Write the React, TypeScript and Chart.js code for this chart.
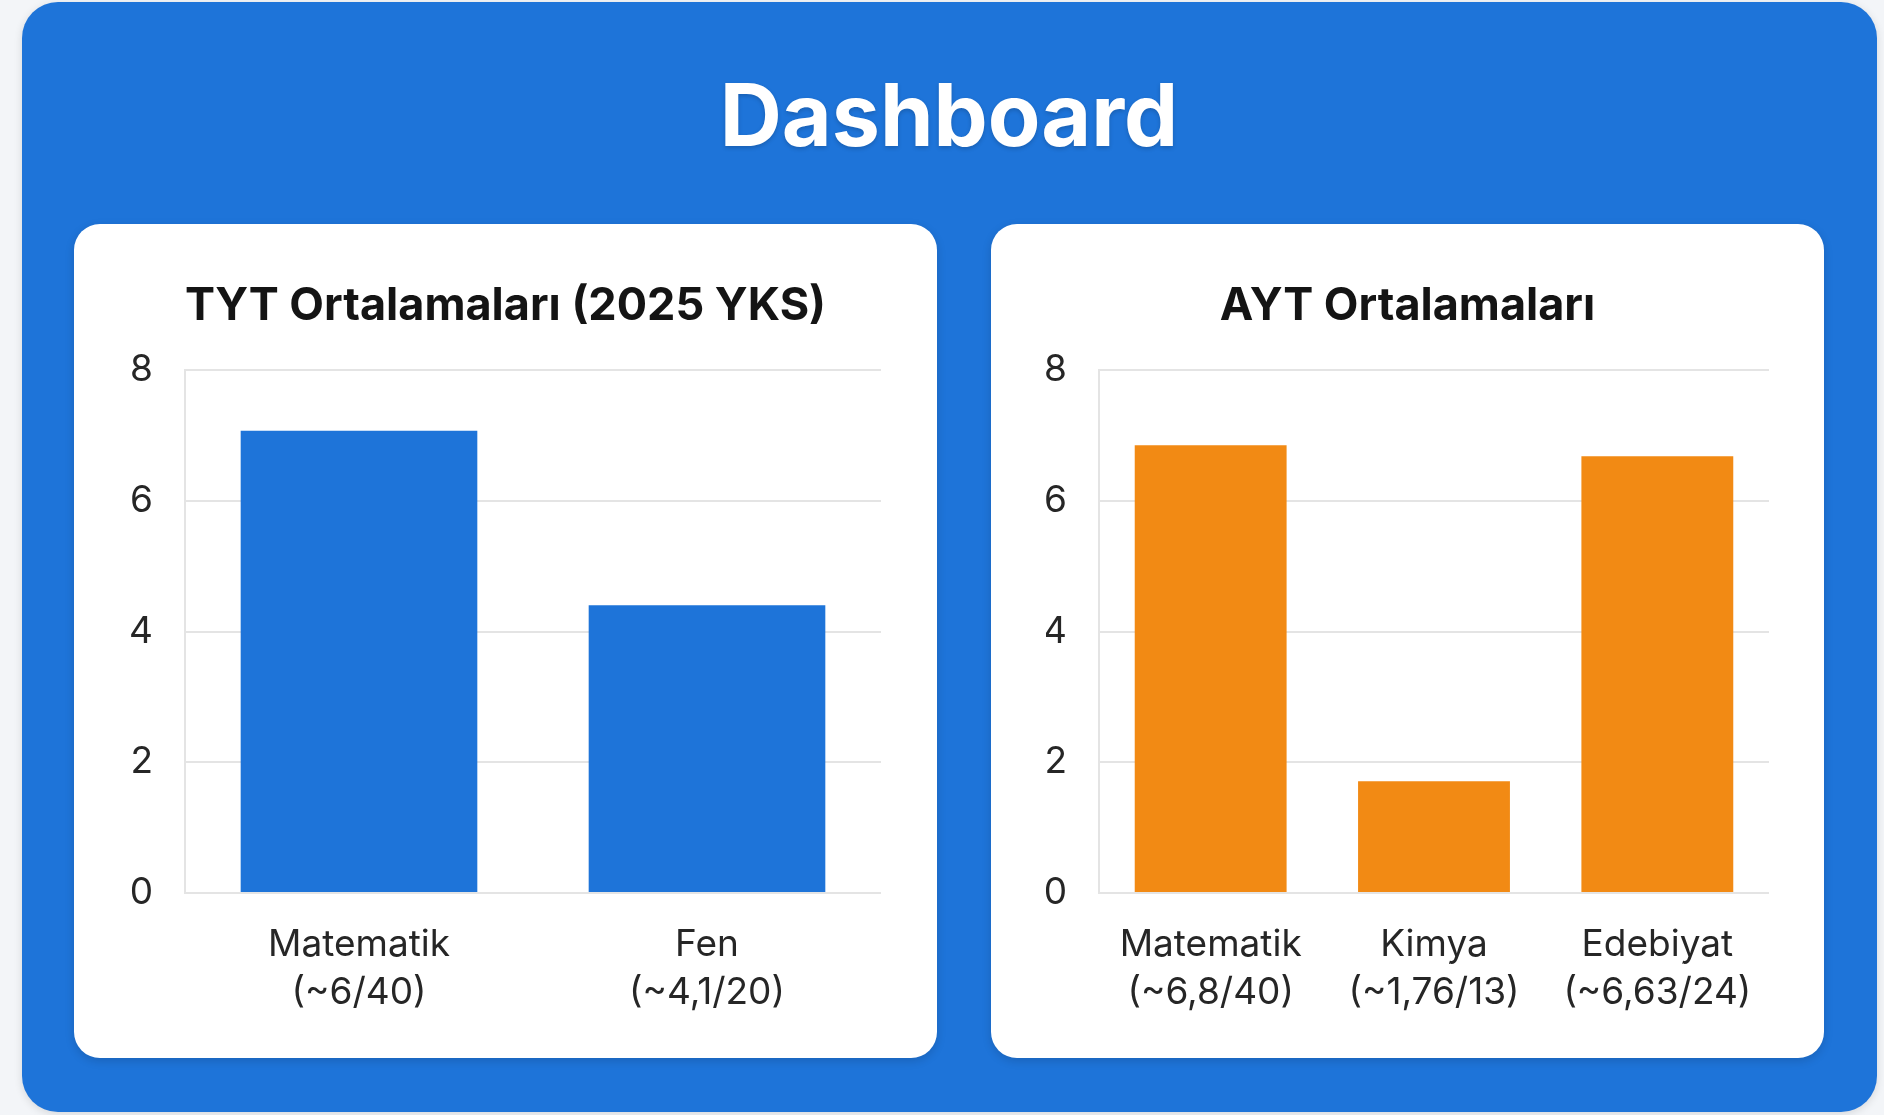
import React, { useEffect, useRef } from "react";
import { Chart, registerables } from "chart.js";

Chart.register(...registerables);

const pageTitle = "Dashboard";

const tytTitle = "TYT Ortalamaları (2025 YKS)";
const tytCategories = [["Matematik", "(~6/40)"], ["Fen", "(~4,1/20)"]];
const tytValues = [7.07, 4.4];

const aytTitle = "AYT Ortalamaları";
const aytCategories = [["Matematik", "(~6,8/40)"], ["Kimya", "(~1,76/13)"], ["Edebiyat", "(~6,63/24)"]];
const aytValues = [6.85, 1.71, 6.68];

const yMin = 0;
const yMax = 8;
const yStep = 2;

const FONT = "Inter, 'Noto Sans', 'DejaVu Sans', sans-serif";

type BarProps = {
  title: string;
  categories: string[][];
  values: number[];
  color: string;
  width: number;
  height: number;
  yAxisWidth: number;
  padSide: number;
};

function BarCard({ title, categories, values, color, width, height, yAxisWidth, padSide }: BarProps) {
  const ref = useRef<HTMLCanvasElement | null>(null);
  useEffect(() => {
    if (!ref.current) return;
    const chart = new Chart(ref.current, {
      type: "bar",
      data: {
        labels: categories,
        datasets: [
          {
            data: values,
            backgroundColor: color,
            borderWidth: 0,
            categoryPercentage: 0.8,
            barPercentage: 0.85,
          },
        ],
      },
      options: {
        responsive: false,
        animation: false,
        layout: { padding: { top: 0, left: padSide, right: padSide, bottom: 14 } },
        plugins: {
          legend: { display: false },
          tooltip: { enabled: false },
          title: {
            display: true,
            text: title,
            color: "#141414",
            font: { family: FONT, size: 45, weight: "bold", lineHeight: 1.2 },
            padding: { top: 55, bottom: 37 },
          },
        },
        scales: {
          x: {
            grid: { display: false, drawTicks: false },
            border: { display: false },
            ticks: {
              color: "#262626",
              padding: 27.5,
              font: { family: FONT, size: 37, lineHeight: 48 / 37 },
              maxRotation: 0,
              autoSkip: false,
            },
          },
          y: {
            min: yMin,
            max: yMax,
            ticks: {
              stepSize: yStep,
              color: "#262626",
              padding: 32,
              font: { family: FONT, size: 37 },
            },
            grid: { color: "#e4e4e4", lineWidth: 2, drawTicks: false },
            border: { display: true, color: "#e4e4e4", width: 2 },
            afterFit: (s: any) => {
              s.width = yAxisWidth;
            },
          },
        },
      },
    });
    return () => chart.destroy();
  }, []);
  return <canvas ref={ref} width={width} height={height} style={{ width, height, display: "block" }} />;
}

export default function App() {
  return (
    <div
      style={{
        position: "fixed",
        left: 0,
        top: 0,
        width: 1884,
        height: 1115,
        background: "#f3f5f8",
        overflow: "hidden",
        fontFamily: FONT,
      }}
    >
      <div
        style={{
          position: "absolute",
          left: 22,
          top: 2,
          width: 1855,
          height: 1110,
          borderRadius: 36,
          background: "#1e74d9",
          boxShadow: "0 2px 8px rgba(0,0,0,0.12)",
        }}
      />
      <div
        style={{
          position: "absolute",
          left: 0,
          width: 1898,
          top: 72,
          textAlign: "center",
          color: "#ffffff",
          fontSize: 86,
          fontWeight: 700,
          lineHeight: "86px",
          textShadow: "0 2px 4px rgba(0,0,0,0.18)",
        }}
      >
        {pageTitle}
      </div>
      <div
        style={{
          position: "absolute",
          left: 74,
          top: 224,
          width: 863,
          height: 834,
          borderRadius: 26,
          background: "#ffffff",
          overflow: "hidden",
          boxShadow: "0 3px 10px rgba(0,0,0,0.15)",
        }}
      >
        <BarCard
          title={tytTitle}
          categories={tytCategories}
          values={tytValues}
          color="#1e74d9"
          width={863}
          height={834}
          yAxisWidth={55}
          padSide={56}
        />
      </div>
      <div
        style={{
          position: "absolute",
          left: 991,
          top: 224,
          width: 833,
          height: 834,
          borderRadius: 26,
          background: "#ffffff",
          overflow: "hidden",
          boxShadow: "0 3px 10px rgba(0,0,0,0.15)",
        }}
      >
        <BarCard
          title={aytTitle}
          categories={aytCategories}
          values={aytValues}
          color="#f28a14"
          width={833}
          height={834}
          yAxisWidth={53}
          padSide={55}
        />
      </div>
    </div>
  );
}
